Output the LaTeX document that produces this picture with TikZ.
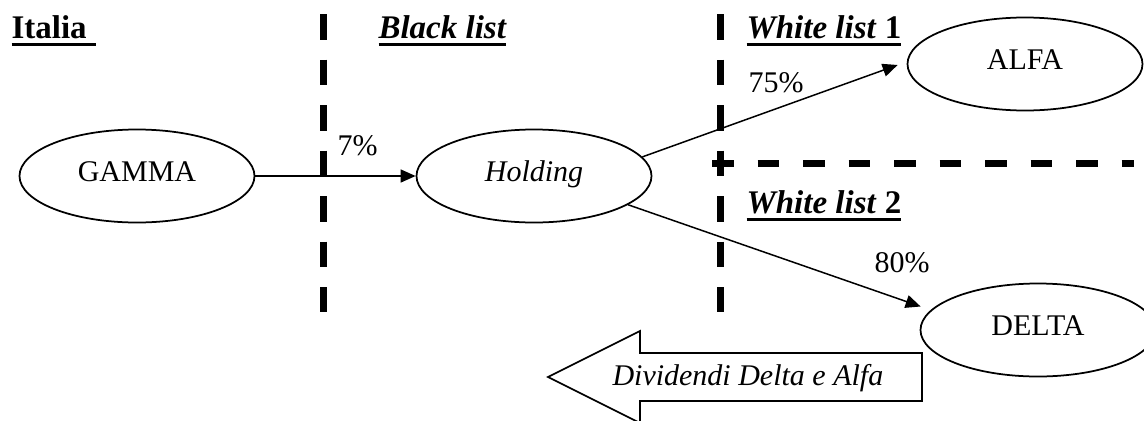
\documentclass[tikz,border=0pt]{standalone}
\usepackage{fontspec}
\setmainfont{Liberation Serif}
\usetikzlibrary{arrows.meta,calc,shapes.geometric}
\newsavebox\ulbox
\newcommand\myul[1]{\sbox\ulbox{#1}\rlap{\rule[-3pt]{\wd\ulbox}{1.2pt}}\usebox\ulbox}
\begin{document}
\begin{tikzpicture}[x=0.4pt,y=-0.4pt,
  ent/.style={ellipse,draw,line width=0.7pt,minimum width=94pt,minimum height=37.2pt,inner sep=0pt,text height=8pt,text depth=4pt,font=\fontsize{12}{14}\selectfont},
  conn/.style={line width=0.6pt,-{Triangle[length=6pt,width=5.2pt]}},
  vborder/.style={line width=2.8pt,dash pattern=on 10.2pt off 8pt},
  hborder/.style={line width=2.8pt,dash pattern=on 8.6pt off 9.6pt},
  head/.style={anchor=base west,inner sep=0pt,font=\fontsize{13.2}{15}\selectfont\bfseries},
  pct/.style={anchor=base west,inner sep=0pt,font=\fontsize{12}{14}\selectfont},
  blockarrow/.style={line width=0.7pt,fill=white}]
\useasboundingbox (0,0) rectangle (1144,420);
% borders
\coordinate (b1top) at (323,14);
\coordinate (b1bot) at (323,312);
\coordinate (b2top) at (720,14);
\coordinate (b2bot) at (720,312);
\coordinate (hleft) at (712,163);
\coordinate (hright) at (1134,163);
\draw[vborder] (b1top) -- (b1bot);
\draw[vborder] (b2top) -- (b2bot);
\draw[hborder] (hleft) -- (hright);
% headings
\node[head] (italia) at (11,38) {\myul{Italia\hspace{3.6pt}}};
\node[head] (black) at (378,38) {\myul{\itshape Black list}};
\node[head] (wl1) at (746,38) {\myul{\itshape White list\/ \upshape 1}};
\node[head] (wl2) at (746,213) {\myul{\itshape White list\/ \upshape 2}};
% entities
\node[ent] (gamma) at (137,176) {GAMMA};
\node[ent] (holding) at (534,176) {\itshape Holding};
\node[ent] (alfa) at (1025,64) {ALFA};
\node[ent] (delta) at (1038,330) {DELTA};
% connectors
\draw[conn] (gamma.east) -- (holding.west);
\draw[conn] (holding.10) -- ($(alfa.west)+(-9,1)$);
\draw[conn] (holding.-17) -- ($(delta.west)+(1,-23.5)$);
% labels
\node[pct] (p7) at (337,155) {7\%};
\node[pct] (p75) at (748,92) {75\%};
\node[pct] (p80) at (874,272) {80\%};
% dividend block arrow
\draw[blockarrow] (548,377) -- (640,331) -- (640,353) -- (922,353) -- (922,401) -- (640,401) -- (640,423) -- cycle;
\node[pct] (div) at (612,385) {\itshape Dividendi Delta e Alfa};
\end{tikzpicture}
\end{document}
